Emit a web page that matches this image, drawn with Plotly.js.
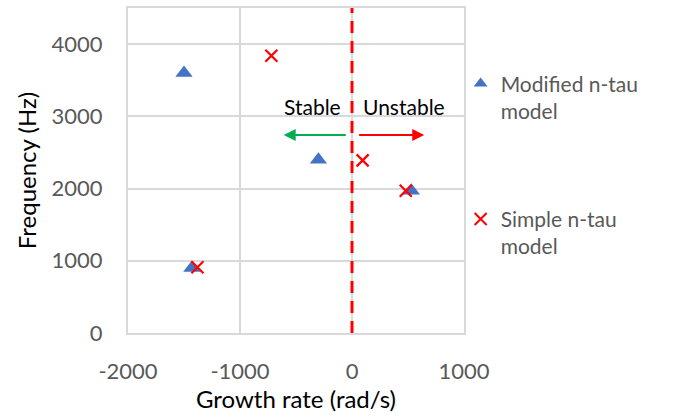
<!DOCTYPE html>
<html><head><meta charset="utf-8">
<script src="https://cdn.plot.ly/plotly-3.0.1.min.js"></script>
<style>html,body{margin:0;padding:0;background:#fff}#chart{width:677px;height:417px}</style>
</head><body><div id="chart"></div>
<script>
const modifiedX = [-1500, -300, 530, -1430];
const modifiedY = [3600, 2400, 1970, 900];
const simpleX = [-720, 95, 480, -1380];
const simpleY = [3840, 2390, 1970, 910];
const xTicks = [-2000, -1000, 0, 1000];
const yTicks = [0, 1000, 2000, 3000, 4000];
const seriesNames = ["Modified n-tau<br>model", "Simple n-tau<br>model"];
const regionLabels = ["Stable", "Unstable"];

const font = "Lato, 'Open Sans', sans-serif";
const traces = [
  {x: modifiedX, y: modifiedY, mode: "markers", type: "scatter", name: seriesNames[0], legendgroup: "a",
   marker: {symbol: "triangle-up", size: 15, color: "#4472c4"}},
  {x: simpleX, y: simpleY, mode: "markers", type: "scatter", name: seriesNames[1], legendgroup: "b",
   marker: {symbol: "x-thin", size: 12, color: "#ff0000", line: {color: "#ff0000", width: 2.2}}}
];
const layout = {
  width: 677, height: 417,
  margin: {l: 128, r: 213, t: 8, b: 84},
  paper_bgcolor: "#fff", plot_bgcolor: "#fff",
  font: {family: font, color: "#595959"},
  showlegend: true,
  legend: {x: 0.99, xanchor: "left", y: 0.83, yanchor: "top", valign: "top", font: {size: 21, color: "#595959", family: font},
    tracegroupgap: 78, itemsizing: "constant", bgcolor: "rgba(0,0,0,0)"},
  xaxis: {range: [-2000, 1000], tickvals: xTicks, ticktext: xTicks.map(String), showgrid: true, gridcolor: "#d9d9d9", gridwidth: 2,
    zeroline: false, showline: true, linecolor: "#d9d9d9", linewidth: 2, mirror: true, ticks: "outside", ticklen: 18, tickcolor: "rgba(0,0,0,0)",
    tickfont: {size: 22, color: "#595959"},
    title: {text: "Growth rate (rad/s)", font: {size: 24, color: "#000"}, standoff: 8}},
  yaxis: {range: [0, 4500], tickvals: yTicks, ticktext: yTicks.map(String), showgrid: true, gridcolor: "#d9d9d9", gridwidth: 2,
    zeroline: false, showline: true, linecolor: "#d9d9d9", linewidth: 2, mirror: true, ticks: "outside", ticklen: 19, tickcolor: "rgba(0,0,0,0)",
    tickfont: {size: 22, color: "#595959"},
    title: {text: "Frequency (Hz)", font: {size: 24, color: "#000"}, standoff: 8}},
  shapes: [
    {type: "line", xref: "x", yref: "y", x0: 0, x1: 0, y0: 0, y1: 4500, line: {color: "#ff0000", width: 3, dash: "12px,8px"}}
  ],
  annotations: [
    {x: -354, y: 3140, xref: "x", yref: "y", text: regionLabels[0], showarrow: false, font: {size: 21, color: "#000"}},
    {x: 460, y: 3140, xref: "x", yref: "y", text: regionLabels[1], showarrow: false, font: {size: 21, color: "#000"}},
    {x: -610, y: 2740, ax: -42, ay: 2740, xref: "x", yref: "y", axref: "x", ayref: "y", text: "", showarrow: true,
     arrowhead: 2, arrowsize: 1.2, arrowwidth: 2, arrowcolor: "#00b050"},
    {x: 645, y: 2740, ax: 50, ay: 2740, xref: "x", yref: "y", axref: "x", ayref: "y", text: "", showarrow: true,
     arrowhead: 2, arrowsize: 1.2, arrowwidth: 2, arrowcolor: "#ff0000"}
  ]
};
Plotly.newPlot("chart", traces, layout, {displayModeBar: false, staticPlot: true});
</script></body></html>
